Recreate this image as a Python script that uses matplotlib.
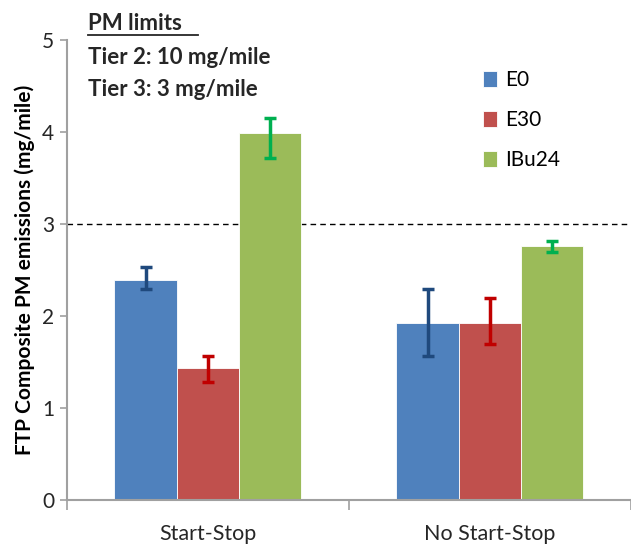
import numpy as np
import matplotlib
matplotlib.use("Agg")
import matplotlib.pyplot as plt
from matplotlib.lines import Line2D

plt.rcParams['font.family'] = ['Lato', 'DejaVu Sans']

# data
categories = ['Start-Stop', 'No Start-Stop']
fuels = ['E0', 'E30', 'IBu24']
values = {
    'E0':    [2.39, 1.92],
    'E30':   [1.44, 1.92],
    'IBu24': [3.99, 2.76],
}
err_low = {
    'E0':    [0.10, 0.35],
    'E30':   [0.16, 0.22],
    'IBu24': [0.27, 0.06],
}
err_high = {
    'E0':    [0.14, 0.37],
    'E30':   [0.13, 0.28],
    'IBu24': [0.16, 0.06],
}
tier3_limit = 3

bar_colors = {'E0': '#4F81BD', 'E30': '#C0504D', 'IBu24': '#9BBB59'}
err_colors = {'E0': '#1F497D', 'E30': '#C00000', 'IBu24': '#00B050'}

fig = plt.figure(figsize=(6.31, 5.44), dpi=100)
ax = fig.add_axes([0.106, 0.081, 0.894, 0.845])

x = np.arange(len(categories))
w = 0.221
for i, f in enumerate(fuels):
    pos = x + (i - 1) * w
    ax.bar(pos, values[f], width=w, color=bar_colors[f], label=f,
           edgecolor='white', linewidth=0.6, zorder=2)
    ax.errorbar(pos, values[f], yerr=[err_low[f], err_high[f]], fmt='none',
                ecolor=err_colors[f], elinewidth=2.5, capsize=4, capthick=2.5,
                zorder=3)

ax.axhline(tier3_limit, color='black', linestyle=(0, (4, 3)), linewidth=1, zorder=1)

ax.set_xlim(-0.5, 1.5)
ax.set_ylim(0, 5)
ax.set_yticks(range(6))
ax.set_xticks(x)
ax.set_xticklabels(categories, fontsize=15.5, color='#262626')
ax.set_xticks([-0.5, 0.5, 1.5], minor=True)
ax.tick_params(axis='x', which='major', length=0, pad=17)
ax.tick_params(axis='x', which='minor', length=7, color='#a0a0a0', width=1.2)
ax.tick_params(axis='y', length=5, color='#a0a0a0', width=1.2, labelsize=15,
               labelcolor='#262626', pad=4)
for s in ['top', 'right']:
    ax.spines[s].set_visible(False)
for s in ['left', 'bottom']:
    ax.spines[s].set_color('#a0a0a0')
    ax.spines[s].set_linewidth(1.5)

ax.set_ylabel('FTP Composite PM emissions (mg/mile)', fontsize=15,
              fontweight='bold', labelpad=5)

leg = ax.legend(loc='upper left', bbox_to_anchor=(0.705, 0.975), frameon=False,
                fontsize=15, handlelength=0.65, handleheight=0.8,
                labelspacing=0.95, handletextpad=0.4)

fig.text(88 / 631, 1 - 23 / 544, 'PM limits', fontsize=16, fontweight='bold',
         va='center', color='#262626')
fig.add_artist(Line2D([88 / 631, 198 / 631], [1 - 35 / 544, 1 - 35 / 544],
                      color='#262626', linewidth=1.3))
fig.text(88 / 631, 1 - 57 / 544, 'Tier 2: 10 mg/mile', fontsize=16,
         fontweight='bold', va='center', color='#262626')
fig.text(88 / 631, 1 - 89 / 544, 'Tier 3: 3 mg/mile', fontsize=16,
         fontweight='bold', va='center', color='#262626')

fig.savefig('out.png', dpi=100)
